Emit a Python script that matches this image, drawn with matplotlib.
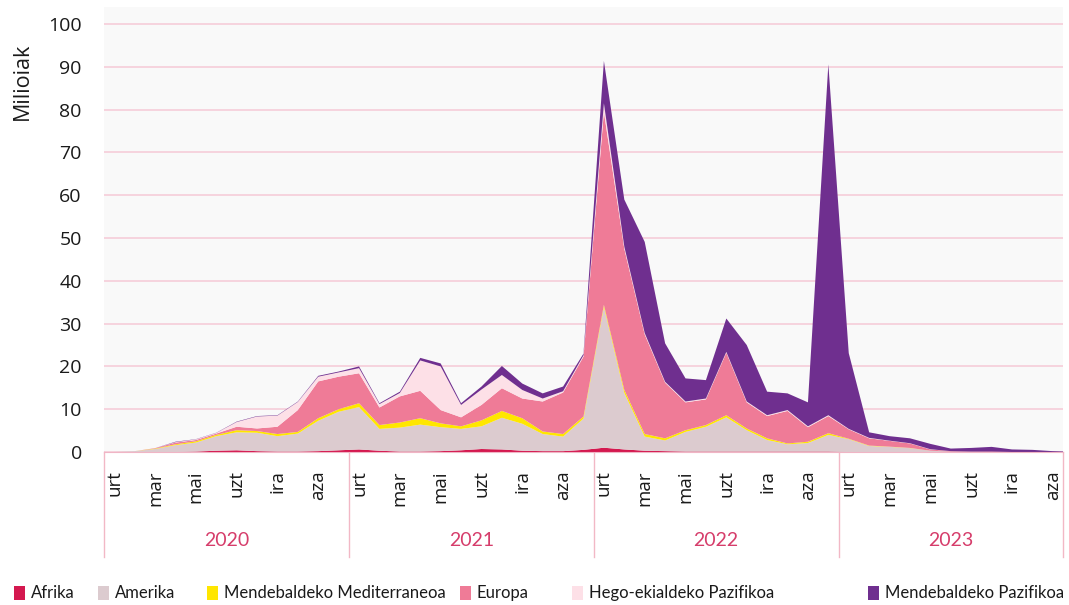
import numpy as np
import matplotlib
matplotlib.use("Agg")
import matplotlib.pyplot as plt
import matplotlib.patches as mpatches
import matplotlib.transforms as mtransforms

# =============================================================================
# Datuak (milioiak), hilabetez, 2020-01 -> 2023-12
urteak = ["2020", "2021", "2022", "2023"]
hilabete_etiketak = ["urt", "mar", "mai", "uzt", "ira", "aza"]

eskualdeak = ["Afrika", "Amerika", "Mendebaldeko Mediterraneoa", "Europa",
              "Hego-ekialdeko Pazifikoa", "Mendebaldeko Pazifikoa"]

afrika = [0, 0, 0, 0, 0.1, 0.3, 0.4, 0.2, 0.1, 0.1, 0.2, 0.4,
          0.6, 0.3, 0.1, 0.1, 0.2, 0.4, 0.7, 0.6, 0.3, 0.2, 0.2, 0.5,
          1.0, 0.6, 0.3, 0.2, 0.1, 0.1, 0.1, 0.1, 0.1, 0.1, 0.1, 0.1,
          0, 0, 0, 0, 0, 0, 0, 0, 0, 0, 0, 0]
amerika = [0, 0.2, 0.7, 1.6, 2.1, 3.4, 4.2, 4.3, 3.6, 4.2, 7.1, 9.0,
           9.9, 5.1, 5.6, 6.3, 5.6, 5.0, 5.3, 7.4, 6.3, 4.0, 3.4, 7.3,
           32.9, 13.2, 3.3, 2.5, 4.6, 5.8, 8.0, 5.0, 2.7, 1.7, 2.0, 3.9,
           3.0, 1.4, 1.2, 0.9, 0.3, 0.1, 0.05, 0, 0, 0, 0, 0]
mediterraneoa = [0, 0, 0.1, 0.2, 0.3, 0.3, 0.5, 0.4, 0.5, 0.4, 0.6, 0.6,
                 0.9, 0.9, 1.2, 1.5, 0.9, 0.6, 1.4, 1.6, 1.3, 0.6, 0.6, 0.5,
                 0.5, 0.7, 0.6, 0.5, 0.4, 0.4, 0.5, 0.4, 0.4, 0.2, 0.3, 0.4,
                 0.1, 0.1, 0.05, 0.05, 0, 0, 0, 0, 0, 0, 0, 0]
europa = [0, 0, 0.1, 0.4, 0.3, 0.3, 0.8, 0.6, 1.7, 5.1, 8.6, 7.6,
          7.0, 4.1, 6.1, 6.4, 3.1, 2.1, 3.6, 5.3, 4.6, 7.0, 9.7, 14.0,
          45.1, 33.0, 23.3, 13.0, 6.5, 6.0, 14.6, 6.1, 5.2, 7.6, 3.4, 4.0,
          2.2, 1.7, 1.35, 1.05, 0.3, 0.1, 0.05, 0.1, 0, 0, 0, 0]
hego_pazifikoa = [0, 0, 0, 0.1, 0.15, 0.15, 1.1, 2.8, 2.6, 1.9, 1.1, 1.0,
                  1.2, 0.8, 0.8, 7.1, 10.2, 2.9, 3.6, 3.1, 2.0, 0.7, 0.3, 0.3,
                  2.0, 0.5, 0.3, 0.2, 0.2, 0.2, 0.2, 0.2, 0.2, 0.2, 0.2, 0.2,
                  0.1, 0.1, 0.05, 0.05, 0.05, 0, 0, 0, 0, 0, 0, 0]
mendebaldeko_pazifikoa = [0, 0, 0, 0.1, 0.05, 0.05, 0.1, 0.1, 0.1, 0.1, 0.2, 0.2,
                          0.4, 0.2, 0.3, 0.6, 0.7, 0.4, 0.7, 2.1, 1.5, 1.2, 1.1, 0.4,
                          9.9, 11.0, 21.3, 9.0, 5.4, 4.3, 7.8, 13.2, 5.5, 3.9, 5.6, 82.0,
                          17.7, 1.3, 1.05, 1.15, 1.25, 0.6, 0.85, 1.1, 0.6, 0.5, 0.2, 0.05]

koloreak = ["#d4184f", "#dccbcf", "#ffe600", "#ef7b97", "#fde0e7", "#6f2f8f"]
# =============================================================================

plt.rcParams['font.family'] = ['Open Sans', 'DejaVu Sans']

fig = plt.figure(figsize=(10.69, 6.05), dpi=100)
ax = fig.add_axes([104/1069, 1 - 452/605, (1063 - 104)/1069, 445/605])
ax.set_facecolor("#f9f9f9")

x = np.arange(len(afrika))
ax.stackplot(x, afrika, amerika, mediterraneoa, europa, hego_pazifikoa,
             mendebaldeko_pazifikoa, colors=koloreak, linewidth=0, zorder=3)

# irudia eskuinean moztuta dago (abendua 2023 kanpoan)
x_max = len(x) - 1.5
ax.set_xlim(-0.5, x_max)
ax.set_ylim(0, 104)
ax.set_yticks(np.arange(0, 101, 10))
ax.yaxis.grid(True, color="#f6c9d6", linewidth=1.1, zorder=1)
ax.set_axisbelow(True)
for s in ["top", "right", "left"]:
    ax.spines[s].set_visible(False)
ax.spines["bottom"].set_color("#f0b5c5")
ax.spines["bottom"].set_zorder(4)

ax.tick_params(axis="y", length=0, pad=16, labelsize=14, labelcolor="#1a1a1a")
ax.set_xticks(x[::2])
ax.set_xticklabels(hilabete_etiketak * len(urteak), rotation=90)
ax.tick_params(axis="x", length=0, pad=13, labelsize=13.5, labelcolor="#1a1a1a")

# urte koadroak
trans = mtransforms.blended_transform_factory(ax.transData, ax.transAxes)
for k in range(len(urteak) + 1):
    xl = min(12*k - 0.5, x_max)
    ax.plot([xl, xl], [0, -0.236], transform=trans,
            color="#f2b8c6", linewidth=1, clip_on=False)
for k, urtea in enumerate(urteak):
    xc = (12*k - 0.5 + min(12*k + 11.5, x_max)) / 2
    ax.text(xc, -0.2, urtea, transform=trans, ha="center", va="center",
            fontsize=14, color="#d63d6b", family=['Lato', 'Open Sans'])

fig.text(22/1069, 1 - 81/605, "Milioiak", rotation=90, ha="center", va="center",
         fontsize=15.5, color="#1a1a1a")

# legenda
leg_x = [14, 98, 207, 460, 572, 868]
for xx, izena, kol in zip(leg_x, eskualdeak, koloreak):
    fig.patches.append(mpatches.Rectangle((xx/1069, 1 - 600/605), 11/1069, 14/605,
                                          transform=fig.transFigure, facecolor=kol,
                                          edgecolor="none"))
    fig.text((xx + 17)/1069, 1 - 593/605, izena, ha="left", va="center",
             fontsize=12, color="#1a1a1a", family=['Lato', 'Open Sans', 'DejaVu Sans'])

plt.savefig("out.png", dpi=100)
